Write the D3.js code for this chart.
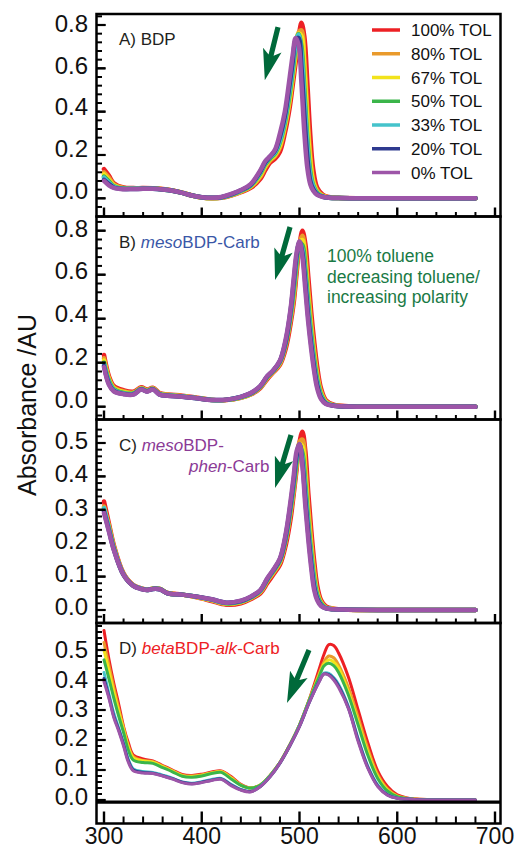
<!DOCTYPE html>
<html><head><meta charset="utf-8">
<script src="https://cdn.jsdelivr.net/npm/d3@7"></script>
<style>body{margin:0;background:#fff}svg{display:block}text{font-family:"Liberation Sans",Arial,sans-serif}</style>
</head><body><svg id="c" width="520" height="850"></svg>
<script>
// ---------------- DATA ----------------
const seriesNames = ["100% TOL","80% TOL","67% TOL","50% TOL","33% TOL","20% TOL","0% TOL"];
const xTicks = [300,400,500,600,700];
const yTicksA = [0,0.2,0.4,0.6,0.8];
const yTicksB = [0,0.2,0.4,0.6,0.8];
const yTicksC = [0,0.1,0.2,0.3,0.4,0.5];
const yTicksD = [0,0.1,0.2,0.3,0.4,0.5];

// Panel A: BDP
const wlA = [300,305,310,320,330,340,350,360,370,380,390,400,410,420,430,440,450,460,465,470,475,480,485,490,493,496,499,502,505,508,511,514,518,524,530,540,560,600,680];
const A_100 = [.135,.105,.07,.05,.047,.047,.046,.043,.036,.026,.013,.004,.000,.002,.012,.028,.048,.09,.13,.165,.183,.215,.30,.42,.52,.625,.74,.81,.745,.535,.295,.135,.05,.016,.006,.002,0,0,0];
const A_80  = [.12,.095,.065,.048,.046,.046,.045,.042,.036,.026,.013,.004,.001,.003,.014,.03,.052,.10,.143,.175,.195,.235,.325,.45,.555,.66,.765,.775,.635,.40,.20,.085,.037,.012,.004,.001,0,0,0];
const A_67  = [.11,.085,.06,.046,.045,.045,.045,.042,.036,.025,.013,.004,.001,.004,.015,.032,.055,.107,.15,.18,.20,.245,.335,.46,.56,.665,.76,.75,.59,.355,.17,.075,.03,.01,.004,.001,0,0,0];
const A_50  = [.10,.078,.056,.045,.044,.045,.045,.041,.035,.025,.013,.004,.001,.004,.016,.034,.058,.115,.158,.185,.208,.26,.35,.485,.585,.695,.757,.70,.50,.275,.125,.06,.025,.008,.003,.001,0,0,0];
const A_33  = [.095,.072,.053,.044,.044,.044,.044,.041,.035,.025,.013,.005,.002,.005,.017,.035,.06,.12,.162,.19,.213,.265,.36,.50,.60,.71,.755,.67,.457,.245,.107,.055,.022,.008,.003,.001,0,0,0];
const A_20  = [.085,.066,.05,.043,.043,.044,.044,.041,.035,.025,.013,.005,.002,.005,.018,.037,.062,.125,.167,.193,.22,.285,.38,.53,.63,.73,.74,.605,.383,.19,.08,.042,.019,.007,.003,.001,0,0,0];
const A_0   = [.08,.06,.048,.042,.043,.044,.044,.041,.035,.025,.013,.005,.002,.006,.02,.038,.065,.13,.172,.195,.225,.30,.40,.56,.66,.74,.71,.53,.30,.14,.065,.035,.016,.006,.003,.001,0,0,0];

// Panel B: mesoBDP-Carb
const wlB = [300,305,310,320,330,338,344,350,357,365,380,395,410,425,440,450,460,467,473,480,486,491,494,497,500,503,506,509,512,515,518,522,527,535,550,580,680];
const B_100 = [.235,.14,.095,.075,.068,.088,.078,.086,.062,.056,.05,.041,.031,.03,.04,.055,.085,.125,.155,.19,.265,.38,.47,.605,.735,.80,.74,.59,.43,.297,.186,.084,.03,.009,.002,0,0];
const B_80  = [.22,.13,.088,.07,.064,.085,.075,.084,.06,.054,.048,.04,.031,.03,.041,.057,.088,.13,.158,.196,.28,.40,.49,.63,.745,.777,.69,.53,.378,.255,.155,.07,.024,.007,.002,0,0];
const B_67  = [.21,.125,.084,.066,.062,.083,.073,.082,.058,.053,.047,.039,.031,.031,.042,.058,.09,.133,.16,.20,.29,.41,.513,.645,.745,.757,.655,.50,.353,.236,.14,.062,.021,.006,.001,0,0];
const B_50  = [.20,.118,.08,.063,.06,.081,.071,.081,.057,.052,.046,.039,.031,.031,.043,.059,.091,.135,.162,.203,.29,.418,.528,.655,.744,.734,.62,.466,.328,.215,.126,.055,.018,.005,.001,0,0];
const B_33  = [.195,.112,.076,.06,.058,.08,.07,.08,.056,.051,.046,.038,.031,.031,.044,.06,.093,.137,.163,.205,.297,.428,.545,.67,.746,.715,.59,.437,.305,.196,.112,.048,.016,.005,.001,0,0];
const B_20  = [.185,.105,.072,.058,.056,.079,.069,.079,.055,.05,.045,.038,.031,.032,.045,.061,.094,.138,.164,.208,.30,.44,.562,.685,.748,.698,.56,.405,.282,.178,.099,.041,.014,.004,.001,0,0];
const B_0   = [.18,.10,.07,.057,.055,.078,.068,.078,.055,.05,.045,.038,.031,.032,.045,.062,.095,.14,.165,.21,.31,.45,.58,.70,.752,.68,.53,.38,.26,.16,.085,.035,.012,.004,.001,0,0];

// Panel C: mesoBDP-phen-Carb
const wlC = [300,305,310,320,330,338,344,350,357,365,380,395,410,425,440,450,460,467,473,480,486,491,494,497,500,503,506,509,512,515,518,522,527,535,550,580,680];
const C_100 = [.325,.26,.195,.11,.075,.065,.061,.064,.063,.051,.046,.038,.027,.016,.02,.032,.05,.08,.105,.135,.195,.275,.345,.42,.502,.534,.475,.35,.24,.147,.075,.03,.011,.004,.001,0,0];
const C_80  = [.31,.252,.19,.108,.074,.065,.061,.064,.063,.051,.046,.039,.029,.018,.023,.035,.054,.086,.11,.142,.21,.294,.36,.433,.503,.51,.43,.308,.206,.12,.058,.024,.008,.003,.001,0,0];
const C_67  = [.305,.248,.188,.107,.073,.064,.06,.064,.063,.05,.046,.039,.03,.019,.024,.036,.055,.088,.113,.145,.211,.30,.364,.438,.497,.49,.40,.285,.187,.106,.052,.022,.007,.003,.001,0,0];
const C_50  = [.30,.245,.186,.106,.073,.064,.06,.064,.063,.05,.046,.04,.031,.02,.025,.037,.057,.09,.115,.148,.214,.305,.37,.444,.492,.47,.376,.264,.17,.093,.046,.019,.006,.002,.001,0,0];
const C_33  = [.305,.243,.184,.106,.073,.064,.06,.063,.062,.05,.046,.04,.031,.021,.026,.038,.058,.092,.117,.15,.22,.313,.38,.455,.495,.456,.354,.245,.155,.083,.04,.016,.006,.002,.001,0,0];
const C_20  = [.295,.238,.182,.105,.072,.063,.06,.063,.062,.05,.046,.04,.032,.022,.027,.039,.059,.093,.118,.152,.224,.32,.388,.462,.496,.44,.33,.227,.139,.07,.035,.014,.005,.002,.001,0,0];
const C_0   = [.29,.235,.18,.105,.072,.063,.06,.063,.062,.05,.046,.04,.032,.022,.028,.04,.06,.095,.12,.155,.23,.33,.40,.475,.497,.43,.31,.21,.125,.06,.03,.012,.005,.002,.001,0,0];

// Panel D: betaBDP-alk-Carb
const wlD = [300,305,310,315,320,325,330,340,350,360,370,380,390,400,410,420,430,440,450,460,470,480,490,500,510,520,525,530,535,540,550,560,570,580,590,600,610,620,640,660,680];
const D_100 = [.565,.47,.39,.32,.245,.19,.15,.137,.13,.115,.10,.085,.082,.086,.093,.097,.078,.052,.04,.05,.082,.125,.183,.25,.335,.435,.485,.518,.515,.49,.41,.30,.19,.097,.045,.017,.007,.003,.001,0,0];
const D_80  = [.525,.45,.375,.305,.24,.18,.145,.132,.128,.113,.098,.083,.08,.084,.091,.095,.075,.05,.04,.05,.082,.125,.183,.25,.333,.42,.46,.48,.474,.45,.375,.275,.17,.085,.037,.014,.006,.003,.001,0,0];
const D_67  = [.50,.43,.36,.295,.235,.175,.14,.13,.126,.111,.096,.081,.078,.082,.09,.094,.073,.05,.04,.05,.082,.125,.183,.25,.333,.415,.452,.467,.46,.44,.36,.26,.158,.078,.033,.012,.005,.002,.001,0,0];
const D_50  = [.467,.405,.34,.28,.225,.165,.133,.125,.122,.108,.094,.079,.076,.08,.088,.092,.07,.049,.04,.05,.082,.125,.183,.25,.333,.41,.447,.456,.448,.425,.35,.25,.148,.072,.03,.011,.005,.002,.001,0,0];
const D_33  = [.425,.355,.29,.24,.19,.135,.104,.095,.092,.083,.073,.06,.056,.061,.068,.072,.052,.035,.029,.046,.079,.123,.18,.247,.327,.397,.423,.422,.408,.385,.312,.205,.112,.05,.018,.007,.003,.001,0,0,0];
const D_20  = [.405,.345,.28,.235,.185,.13,.10,.092,.089,.081,.071,.059,.054,.059,.066,.07,.05,.034,.028,.045,.078,.123,.18,.245,.325,.395,.42,.418,.404,.38,.307,.20,.108,.047,.017,.006,.003,.001,0,0,0];
const D_0   = [.394,.34,.275,.23,.18,.125,.097,.09,.088,.08,.07,.058,.053,.058,.065,.069,.048,.033,.027,.045,.078,.123,.18,.245,.325,.393,.42,.416,.40,.375,.305,.195,.105,.045,.016,.006,.003,.001,0,0,0];

const noteLines = ["100% toluene","decreasing toluene/","increasing polarity"];

// ---------------- STYLE / LAYOUT ----------------
const colors = ["#ed2024","#e99a2c","#f2e31c","#3bb54a","#45c3cb","#2e3a8f","#9d55a8"];
const ink = "#231f20", arrowGreen = "#00693a", noteGreen = "#1a7a45";
const svg = d3.select("#c");
const L = 96.5, R = 500.5;
const x = d3.scaleLinear().domain([300,700]).range([104,495]);
const fmt = d3.format(".1f");

const panels = [
  {top:14, bot:216.5, y:d3.scaleLinear().domain([0,0.8]).range([198.3,25]),
   lab:d3.scaleLinear().domain([0,0.8]).range([190.5,23.3]), labels:yTicksA,
   minor:d3.range(-0.04,0.85,0.04), wl:wlA, data:[A_100,A_80,A_67,A_50,A_33,A_20,A_0], sw:4.5,
   title:[["A) BDP",ink,"normal"]], arrow:[[478,0.79],[464.5,0.545]], xmaj:9, xmin:4.5},
  {top:216.5, bot:419.5, y:d3.scaleLinear().domain([0,0.8]).range([406.7,230.7]),
   lab:d3.scaleLinear().domain([0,0.8]).range([399.3,228.3]), labels:yTicksB,
   minor:d3.range(-0.04,0.85,0.04), wl:wlB, data:[B_100,B_80,B_67,B_50,B_33,B_20,B_0], sw:4.5,
   title:[["B) ",ink,"normal"],["meso","#3a57a7","italic"],["BDP-Carb","#3a57a7","normal"]],
   arrow:[[490.3,0.817],[475,0.576]], xmaj:9, xmin:4.5},
  {top:419.5, bot:623, y:d3.scaleLinear().domain([0,0.5]).range([610,443]),
   lab:d3.scaleLinear().domain([0,0.5]).range([606.7,440.7]), labels:yTicksC,
   minor:d3.range(-0.02,0.55,0.02), wl:wlC, data:[C_100,C_80,C_67,C_50,C_33,C_20,C_0], sw:4.5,
   title:[["C) ",ink,"normal"],["meso","#8b3a96","italic"],["BDP-","#8b3a96","normal"]],
   title2:[["phen","#8b3a96","italic"],["-Carb","#8b3a96","normal"]],
   arrow:[[491.3,0.524],[475,0.365]], xmaj:9, xmin:4.5},
  {top:623, bot:823.5, y:d3.scaleLinear().domain([0,0.5]).range([800,650]),
   lab:d3.scaleLinear().domain([0,0.5]).range([796.7,650]), labels:yTicksD,
   minor:d3.range(0,0.59,0.02), wl:wlD, data:[D_100,D_80,D_67,D_50,D_33,D_20,D_0], sw:3,
   title:[["D) ",ink,"normal"],["beta","#ed2024","italic"],["BDP-","#ed2024","normal"],["alk","#ed2024","italic"],["-Carb","#ed2024","normal"]],
   arrow:[[509.7,0.50],[487.2,0.323]], xmaj:12, xmin:7, zeroLine:-0.007}
];

function arrowPath(x1,y1,x2,y2){
  const dx=x2-x1, dy=y2-y1, len=Math.hypot(dx,dy), ux=dx/len, uy=dy/len, nx=-uy, ny=ux;
  const hl=26, sw=2.6, hw=9.5, back=5;
  const bx=x2-ux*hl, by=y2-uy*hl;
  const p=[[x1+nx*sw,y1+ny*sw],[bx+nx*sw,by+ny*sw],[bx-ux*back+nx*hw,by-uy*back+ny*hw],[x2,y2],
           [bx-ux*back-nx*hw,by-uy*back-ny*hw],[bx-nx*sw,by-ny*sw],[x1-nx*sw,y1-ny*sw]];
  return "M"+p.map(q=>q.join(",")).join("L")+"Z";
}

panels.forEach((p,pi)=>{
  const g = svg.append("g");
  const line = d3.line().x(d=>x(d[0])).y(d=>p.y(d[1])).curve(d3.curveCatmullRom.alpha(0.5));
  // series
  p.data.forEach((vals,si)=>{
    const pts = p.wl.map((w,i)=>[w,vals[i]]);
    g.append("path").attr("d",line(pts)).attr("fill","none")
      .attr("stroke",colors[si]).attr("stroke-width",p.sw)
      .attr("stroke-linejoin","round").attr("stroke-linecap","round");
  });
  // zero line (panel D)
  if(p.zeroLine!==undefined){
    g.append("line").attr("x1",L).attr("x2",R).attr("y1",p.y(p.zeroLine)).attr("y2",p.y(p.zeroLine))
      .attr("stroke","#000").attr("stroke-width",3.2);
  }
  // y ticks
  const yMinor = p.minor.filter(v=>p.y(v)>p.top+2 && p.y(v)<p.bot-2);
  g.selectAll(null).data(yMinor).join("line")
    .attr("x1",L).attr("x2",d=>L+(p.labels.some(t=>Math.abs(t-d)<1e-6)?9:5.5))
    .attr("y1",d=>p.y(d)).attr("y2",d=>p.y(d)).attr("stroke","#000").attr("stroke-width",2);
  g.selectAll(null).data(p.labels).join("line")
    .attr("x1",L).attr("x2",L+9).attr("y1",d=>p.y(d)).attr("y2",d=>p.y(d))
    .attr("stroke","#000").attr("stroke-width",2.2);
  g.selectAll(null).data(p.labels).join("text")
    .attr("x",88).attr("y",d=>p.lab(d)).attr("dy","0.35em").attr("text-anchor","end")
    .attr("font-size",24).attr("fill","#111").text(d=>fmt(d));
  // x ticks
  const xMinor = d3.range(300,701,20);
  g.selectAll(null).data(xMinor).join("line")
    .attr("x1",d=>x(d)).attr("x2",d=>x(d)).attr("y1",p.bot)
    .attr("y2",d=>p.bot-(xTicks.includes(d)?p.xmaj:p.xmin))
    .attr("stroke","#000").attr("stroke-width",d=>xTicks.includes(d)?2.4:2);
  // frame
  g.append("rect").attr("x",L).attr("y",p.top).attr("width",R-L).attr("height",p.bot-p.top)
    .attr("fill","none").attr("stroke","#000").attr("stroke-width",2.5);
  // title
  const t = g.append("text").attr("x",119).attr("y",p.top+31).attr("font-size",17);
  p.title.forEach(s=>t.append("tspan").text(s[0]).attr("fill",s[1]).attr("font-style",s[2]));
  if(p.title2){
    const t2 = g.append("text").attr("x",189).attr("y",p.top+52.5).attr("font-size",17);
    p.title2.forEach(s=>t2.append("tspan").text(s[0]).attr("fill",s[1]).attr("font-style",s[2]));
  }
  // arrow
  g.append("path").attr("d",arrowPath(x(p.arrow[0][0]),p.y(p.arrow[0][1]),x(p.arrow[1][0]),p.y(p.arrow[1][1])))
    .attr("fill",arrowGreen);
});

// x labels
svg.selectAll(null).data(xTicks).join("text")
  .attr("x",d=>x(d)).attr("y",844).attr("text-anchor","middle").attr("font-size",23).attr("fill","#111")
  .text(d=>d);

// y axis title
svg.append("text").attr("transform","translate(36,405) rotate(-90)").attr("text-anchor","middle")
  .attr("font-size",25).attr("fill","#111").text("Absorbance /AU");

// legend (panel A)
const lg = svg.append("g");
seriesNames.forEach((n,i)=>{
  const cy = 30 + i*23.75;
  lg.append("line").attr("x1",372).attr("x2",400).attr("y1",cy).attr("y2",cy)
    .attr("stroke",colors[i]).attr("stroke-width",3.5);
  lg.append("text").attr("x",411).attr("y",cy+6).attr("font-size",17).attr("fill","#111").text(n);
});

// note (panel B)
svg.selectAll(null).data(noteLines).join("text")
  .attr("x",327).attr("y",(d,i)=>262+i*20.5).attr("font-size",17.5).attr("fill",noteGreen).text(d=>d);
</script></body></html>
